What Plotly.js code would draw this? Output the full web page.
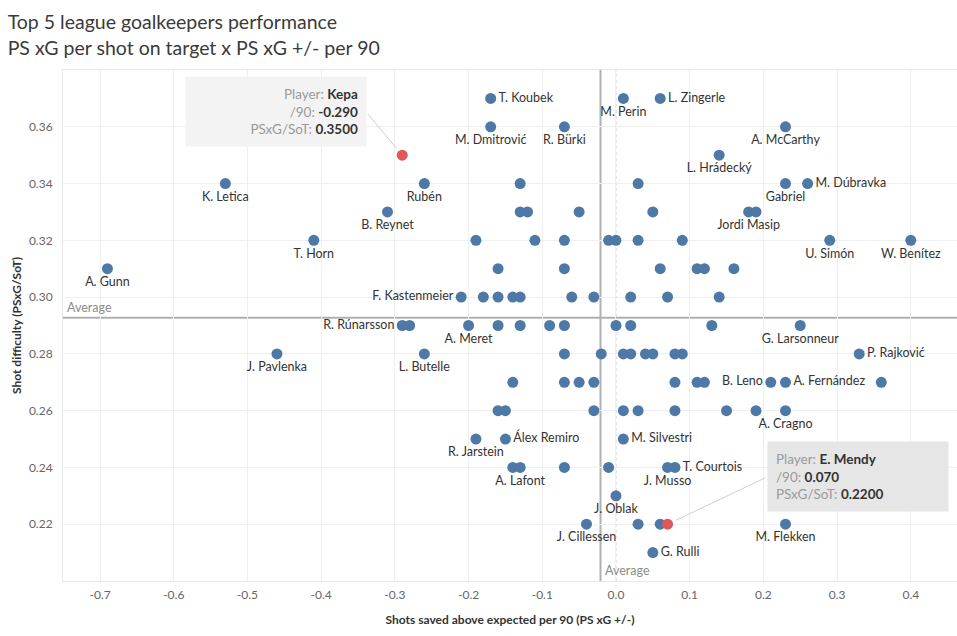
<!DOCTYPE html>
<html>
<head>
<meta charset="utf-8">
<script src="https://cdn.plot.ly/plotly-3.0.1.min.js"></script>
<style>html,body{margin:0;padding:0;background:#fff;}#chart{width:957px;height:636px;}</style>
</head>
<body>
<div id="chart"></div>
<script>
// ---- Data ----
// Labelled goalkeepers
const labelledNames = ['T. Koubek','M. Perin','L. Zingerle','M. Dmitrović','R. Bürki','A. McCarthy','L. Hrádecký',
  'K. Letica','Rubén','Gabriel','M. Dúbravka','B. Reynet','Jordi Masip','T. Horn','U. Simón','W. Benítez','A. Gunn',
  'F. Kastenmeier','R. Rúnarsson','A. Meret','G. Larsonneur','J. Pavlenka','L. Butelle','P. Rajković','B. Leno',
  'A. Fernández','A. Cragno','R. Jarstein','Álex Remiro','M. Silvestri','A. Lafont','T. Courtois','J. Musso',
  'J. Oblak','J. Cillessen','M. Flekken','G. Rulli'];
const labelledPsxgPm = [-0.17,0.01,0.06,-0.17,-0.07,0.23,0.14,
  -0.53,-0.26,0.23,0.26,-0.31,0.18,-0.41,0.29,0.40,-0.69,
  -0.21,-0.29,-0.20,0.25,-0.46,-0.26,0.33,0.21,
  0.23,0.23,-0.19,-0.15,0.01,-0.13,0.08,0.07,
  0.00,-0.04,0.23,0.05];
const labelledPsxgSot = [0.37,0.37,0.37,0.36,0.36,0.36,0.35,
  0.34,0.34,0.34,0.34,0.33,0.33,0.32,0.32,0.32,0.31,
  0.30,0.29,0.29,0.29,0.28,0.28,0.28,0.27,
  0.27,0.26,0.25,0.25,0.25,0.24,0.24,0.24,
  0.23,0.22,0.22,0.21];

// Other goalkeepers (no label shown)
const otherPsxgPm = [-0.13,0.03,
  -0.13,-0.12,-0.05,0.05,0.19,
  -0.19,-0.11,-0.07,-0.01,0.00,0.03,0.09,
  -0.16,-0.07,0.06,0.11,0.12,0.16,
  -0.18,-0.16,-0.14,-0.13,-0.06,-0.03,0.02,0.07,0.14,
  -0.28,-0.16,-0.13,-0.09,-0.07,0.00,0.02,0.13,
  -0.07,-0.02,0.01,0.02,0.04,0.05,0.08,0.09,
  -0.14,-0.07,-0.05,-0.03,0.08,0.11,0.12,0.36,
  -0.16,-0.15,-0.03,0.01,0.03,0.08,0.15,0.19,
  -0.14,-0.07,-0.01,
  0.03,0.06];
const otherPsxgSot = [0.34,0.34,
  0.33,0.33,0.33,0.33,0.33,
  0.32,0.32,0.32,0.32,0.32,0.32,0.32,
  0.31,0.31,0.31,0.31,0.31,0.31,
  0.30,0.30,0.30,0.30,0.30,0.30,0.30,0.30,0.30,
  0.29,0.29,0.29,0.29,0.29,0.29,0.29,0.29,
  0.28,0.28,0.28,0.28,0.28,0.28,0.28,0.28,
  0.27,0.27,0.27,0.27,0.27,0.27,0.27,0.27,
  0.26,0.26,0.26,0.26,0.26,0.26,0.26,0.26,
  0.24,0.24,0.24,
  0.22,0.22];

// Highlighted goalkeepers (tooltips)
const highlightNames = ['Kepa','E. Mendy'];
const highlightPsxgPm = [-0.29, 0.07];
const highlightPsxgSot = [0.35, 0.22];

// Reference lines (averages)
const avgPsxgPm = -0.021;
const avgPsxgSot = 0.2927;

// Ticks
const xTickVals = [-0.7,-0.6,-0.5,-0.4,-0.3,-0.2,-0.1,0.0,0.1,0.2,0.3,0.4];
const xTickText = ['-0.7','-0.6','-0.5','-0.4','-0.3','-0.2','-0.1','0.0','0.1','0.2','0.3','0.4'];
const yTickVals = [0.22,0.24,0.26,0.28,0.30,0.32,0.34,0.36];
const yTickText = ['0.22','0.24','0.26','0.28','0.30','0.32','0.34','0.36'];

// ---- Label placement (style) ----
const rightLabels = ['T. Koubek','L. Zingerle','M. Dúbravka','P. Rajković','A. Fernández','Álex Remiro','M. Silvestri','T. Courtois','G. Rulli'];
const leftLabels = ['F. Kastenmeier','R. Rúnarsson','B. Leno'];
const textPos = labelledNames.map(n => rightLabels.includes(n) ? 'middle right' : (leftLabels.includes(n) ? 'middle left' : 'bottom center'));

const BLUE = '#4e79a7', RED = '#e15759';
const FONT = 'Lato, "Noto Sans", sans-serif';

const traces = [
  {type:'scatter', mode:'markers', x: otherPsxgPm, y: otherPsxgSot,
   marker:{color:BLUE, size:11, line:{width:0}}, hoverinfo:'skip', cliponaxis:false},
  {type:'scatter', mode:'markers+text', x: labelledPsxgPm, y: labelledPsxgSot, text: labelledNames,
   textposition: textPos, textfont:{family:FONT, size:12.5, color:'#333'},
   marker:{color:BLUE, size:11, line:{width:0}}, hoverinfo:'skip', cliponaxis:false},
  {type:'scatter', mode:'markers', x: highlightPsxgPm, y: highlightPsxgSot,
   marker:{color:RED, size:11, line:{width:0}}, hoverinfo:'skip', cliponaxis:false}
];

const boxStyles = [
  {align:'right', xshift:-126, yshift:43.5, bg:'#f3f3f3', lineAx:-36, lineAy:-43},
  {align:'left', xshift:190, yshift:47.5, bg:'#e6e6e6', lineAx:99, lineAy:-47}
];
const annotations = [];
highlightNames.forEach((n,i) => {
  const s = boxStyles[i];
  const g = t => `<span style="color:#9a9a9a">${t}</span>`;
  const txt = `${g('Player:')} <b>${n}</b><br>${g('/90:')} <b>${highlightPsxgPm[i].toFixed(3)}</b><br>${g('PSxG/SoT:')} <b>${highlightPsxgSot[i].toFixed(4)}</b>`;
  annotations.push({x: highlightPsxgPm[i], y: highlightPsxgSot[i], xref:'x', yref:'y', text:' ', showarrow:true,
    ax: s.lineAx, ay: s.lineAy, axref:'pixel', ayref:'pixel', arrowhead:0, arrowwidth:1, arrowcolor:'#cfcfcf',
    standoff:9, font:{size:1}});
  annotations.push({x: highlightPsxgPm[i], y: highlightPsxgSot[i], xref:'x', yref:'y', text: txt, showarrow:false,
    xshift: s.xshift, yshift: s.yshift, align: s.align, width:164, height:53, borderpad:8, bgcolor: s.bg,
    font:{family:FONT, size:13.5, color:'#333'}, valign:'middle'});
});
annotations.push({x:0, y:avgPsxgSot, xref:'paper', yref:'y', text:'Average', showarrow:false,
  xanchor:'left', yanchor:'bottom', xshift:2, yshift:1, font:{family:FONT, size:12.5, color:'#8c8c8c'}});
annotations.push({x:avgPsxgPm, y:0, xref:'x', yref:'paper', text:'Average', showarrow:false,
  xanchor:'left', yanchor:'bottom', xshift:2, yshift:1, font:{family:FONT, size:12.5, color:'#8c8c8c'}});

const layout = {
  width:957, height:636,
  margin:{l:63, r:0, t:70, b:55},
  paper_bgcolor:'#fff', plot_bgcolor:'#fff',
  showlegend:false,
  font:{family:FONT, color:'#333'},
  title:{text:'Top 5 league goalkeepers performance<br>PS xG per shot on target x PS xG +/- per 90',
    x:0.008, xanchor:'left', xref:'container', y:0.954, yanchor:'top', yref:'container',
    font:{family:FONT, size:19.5, color:'#3a3a3a'}},
  xaxis:{range:[-0.7503,0.4627], tickvals:xTickVals, ticktext:xTickText, showgrid:true, gridcolor:'#efefef', gridwidth:1,
    zeroline:false, showline:true, linecolor:'#e8e8e8', mirror:true, ticks:'', ticklabelstandoff:3,
    tickfont:{family:FONT, size:12, color:'#666'},
    title:{text:'Shots saved above expected per 90 (PS xG +/-)', standoff:14, font:{family:FONT, size:12, color:'#333', weight:700}}},
  yaxis:{range:[0.2,0.38], tickvals:yTickVals, ticktext:yTickText, showgrid:true, gridcolor:'#efefef', gridwidth:1,
    zeroline:false, showline:true, linecolor:'#e8e8e8', ticks:'', ticklabelstandoff:7,
    tickfont:{family:FONT, size:12, color:'#666'},
    title:{text:'Shot difficulty (PSxG/SoT)', standoff:4, font:{family:FONT, size:12, color:'#333', weight:700}}},
  shapes:[
    {type:'line', xref:'x', yref:'paper', x0:0, x1:0, y0:0, y1:1, line:{color:'#c8c8c8', width:1, dash:'dot'}, layer:'below'},
    {type:'line', xref:'x', yref:'paper', x0:avgPsxgPm, x1:avgPsxgPm, y0:0, y1:1, line:{color:'#b0b0b0', width:2}, layer:'below'},
    {type:'line', xref:'paper', yref:'y', x0:0, x1:1, y0:avgPsxgSot, y1:avgPsxgSot, line:{color:'#b0b0b0', width:2}, layer:'below'}
  ],
  annotations: annotations
};

Plotly.newPlot('chart', traces, layout, {displayModeBar:false, staticPlot:true});
</script>
</body>
</html>
